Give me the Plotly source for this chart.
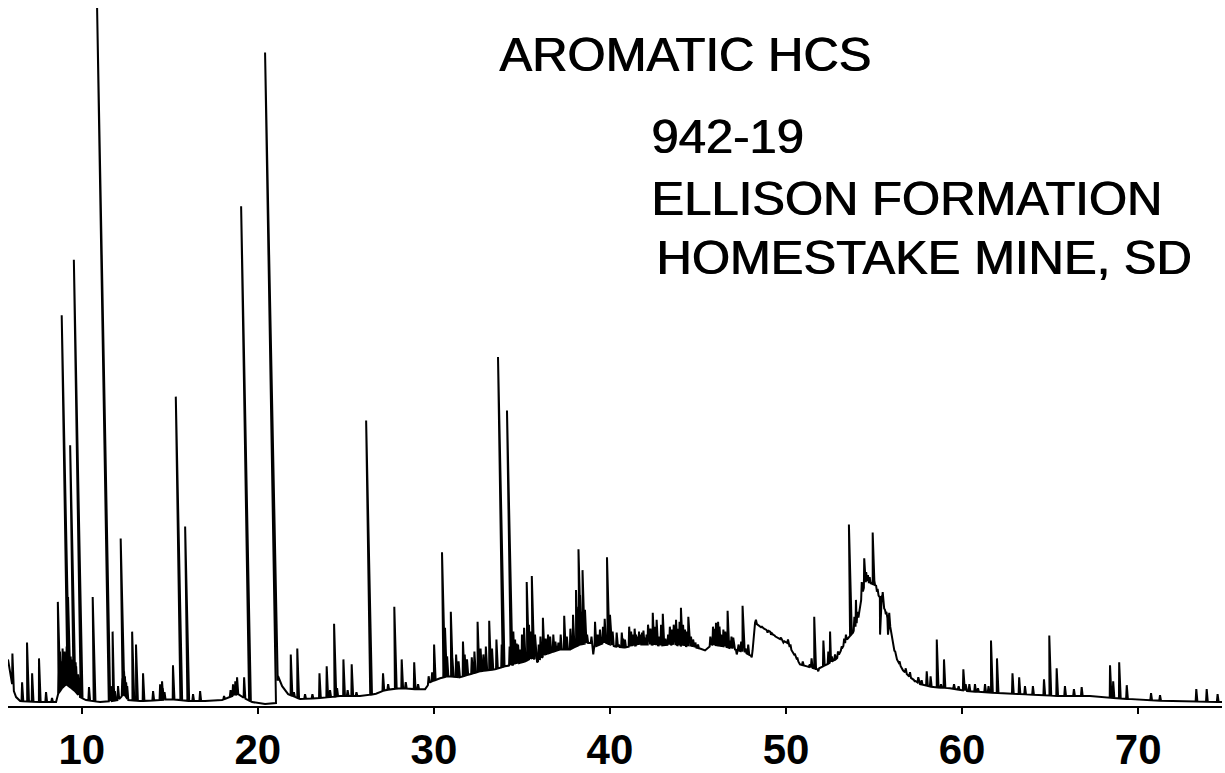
import numpy as np
import plotly.graph_objects as go

# Retention time (min) and detector level of the underlying baseline / UCM hump
base_time = [5.81, 5.93, 6.10, 6.27, 6.50, 7.63, 8.54, 8.65, 8.88, 9.11, 9.34, 9.62, 9.90,
             10.24, 11.04, 11.72, 12.06, 12.40, 12.63, 13.31, 14.45, 15.01, 16.15, 17.00,
             17.97, 18.54, 18.88, 19.22, 19.67, 20.41, 21.03, 21.15, 21.38, 21.72, 22.40,
             23.53, 24.67, 25.80, 26.66, 27.22, 28.08, 28.93, 29.50, 29.78, 30.35, 30.80,
             31.48, 32.05, 32.62, 33.47, 34.04, 34.61, 35.18, 35.63, 35.86, 36.31, 37.16,
             37.73, 38.30, 38.87, 39.15, 39.72, 40.29, 40.85, 41.71, 42.27, 42.84, 43.41,
             44.55, 45.11, 45.40, 45.79, 46.53, 47.10, 47.67, 48.07, 48.24, 48.52, 49.09,
             49.49, 50.05, 50.39, 50.79, 51.19, 51.76, 52.33, 52.89, 53.18, 53.46, 53.80,
             54.09, 54.31, 54.54, 54.77, 55.05, 55.22, 55.45, 55.62, 55.90, 56.13, 56.30,
             56.64, 57.04, 57.61, 58.35, 59.31, 60.28, 61.19, 62.15, 63.29, 64.42, 65.56,
             67.26, 67.83, 69.53, 70.39, 71.80, 74.76]
base_level = [47, 32, 17, 9, 5, 4, 4, 12, 18, 22, 19, 15, 9,
              6, 4, 5, 6, 12, 6, 5, 6, 7, 5, 5,
              6, 10, 12, 8, 4, 2, 3, 30, 20, 12, 7,
              8, 10, 10, 12, 16, 18, 17, 17, 24, 28, 30,
              29, 32, 35, 37, 40, 42, 45, 49, 44, 52, 57,
              57, 62, 64, 60, 64, 60, 59, 62, 62, 61, 62,
              60, 58, 56, 62, 60, 57, 54, 50, 84, 80, 75,
              69, 64, 54, 42, 40, 37, 42, 48, 58, 67, 74,
              87, 112, 127, 124, 122, 112, 107, 95, 82, 57, 47,
              36, 29, 22, 19, 18, 15, 14, 13, 12, 11, 10,
              10, 9, 7, 6, 5, 4]

# Resolved peaks: apex retention time (min) and apex level
peak_time = [6.06, 6.61, 6.89, 7.18, 7.57, 7.97, 8.31, 8.64, 8.71, 8.80, 8.86, 8.94, 8.99,
             9.05, 9.11, 9.17, 9.22, 9.28, 9.34, 9.39, 9.45, 9.55, 9.59, 9.65, 9.68, 9.73,
             9.79, 10.41, 10.62, 10.87, 11.75, 12.06, 12.21, 12.40, 12.52, 12.86, 13.08,
             13.48, 14.05, 14.45, 14.56, 15.18, 15.34, 15.87, 16.32, 16.72, 18.08, 18.59,
             18.82, 19.05, 19.22, 20.41, 21.87, 22.24, 22.68, 23.50, 23.91, 24.33, 24.86,
             25.33, 26.15, 26.66, 27.11, 27.75, 28.17, 28.88, 30.01, 30.46, 30.63, 30.96,
             31.26, 31.65, 31.88, 32.15, 32.48, 32.81, 33.14, 33.55, 33.64, 34.15, 34.51,
             34.61, 34.78, 34.89, 35.00, 35.12, 35.27, 35.40, 35.56, 35.63, 35.74, 36.19,
             36.48, 36.78, 37.07, 37.40, 37.90, 38.07, 38.21, 38.30, 38.44, 38.58, 39.05,
             39.15, 39.43, 39.83, 40.00, 40.38, 40.67, 40.85, 41.09, 41.31, 41.48, 41.65,
             41.82, 41.99, 42.16, 42.43, 42.65, 43.00, 43.30, 43.52, 43.75, 44.03, 44.26,
             44.45, 44.72, 45.85, 46.02, 46.14, 46.31, 46.44, 46.68, 47.00, 47.20, 47.53,
             48.05, 48.29, 48.63, 48.86, 49.26, 49.71, 50.11, 50.51, 51.60, 51.83, 52.12,
             52.50, 52.78, 53.16, 53.57, 53.97, 54.20, 54.44, 54.65, 54.92, 55.11, 55.34,
             55.49, 55.62, 55.79, 55.86, 57.04, 57.51, 57.99, 58.21, 58.56, 58.97, 59.54,
             60.07, 60.41, 60.73, 61.30, 61.64, 61.98, 62.86, 63.24, 63.57, 64.02, 64.65,
             64.95, 65.37, 65.84, 66.35, 66.79, 68.40, 68.58, 68.92, 69.35, 70.73, 71.24,
             73.30, 73.89, 74.51]
peak_height = [53, 24, 64, 33, 48, 14, 8, 105, 47, 40, 394, 50, 42,
               44, 52, 48, 110, 42, 263, 44, 47, 450, 37, 44, 40, 27,
               32, 19, 110, 704, 75, 20, 169, 35, 24, 75, 62,
               33, 15, 22, 25, 41, 312, 181, 12, 15, 10, 22,
               29, 504, 29, 659, 52, 58, 12, 33, 40, 83, 47,
               42, 288, 12, 33, 100, 47, 44, 62, 155, 79, 95,
               52, 65, 47, 49, 85, 52, 86, 67, 352, 298, 75,
               67, 62, 57, 72, 79, 125, 82, 131, 64, 72, 89,
               72, 72, 64, 91, 92, 117, 158, 112, 137, 97, 52,
               85, 77, 150, 92, 74, 74, 67, 80, 72, 72, 75,
               74, 69, 82, 94, 87, 93, 72, 77, 87, 99, 77,
               90, 67, 80, 84, 85, 72, 77, 96, 69, 52, 101,
               49, 87, 80, 77, 72, 69, 67, 52, 90, 35, 66,
               75, 52, 60, 183, 107, 102, 149, 132, 175, 122, 72,
               115, 97, 72, 94, 34, 29, 35, 30, 67, 47, 22,
               37, 22, 22, 22, 66, 48, 33, 29, 20, 20, 27,
               71, 38, 20, 17, 19, 41, 25, 44, 21, 13, 11,
               17, 17, 12]

# Unresolved minor components riding on the hump
minor_time = [8.68, 8.76, 8.83, 8.91, 8.97, 9.02, 9.08, 9.14, 9.20, 9.26, 9.31, 9.37, 9.42,
              9.48, 9.52, 9.62, 9.70, 11.65, 11.80, 11.88, 12.30, 12.45, 12.58, 14.60, 14.70,
              18.45, 18.66, 18.72, 22.05, 23.10, 24.10, 24.50, 25.10, 25.60, 27.40, 28.40,
              29.10, 29.70, 29.90, 30.55, 30.75, 31.05, 31.40, 31.75, 32.30, 32.65, 32.95,
              33.30, 33.85, 34.30, 34.70, 35.05, 35.35, 35.48, 35.95, 36.05, 36.35, 36.60,
              36.90, 37.20, 37.55, 37.75, 38.12, 38.36, 38.50, 38.70, 38.95, 39.30, 39.60,
              39.70, 39.92, 40.15, 40.50, 40.75, 41.20, 41.40, 41.57, 41.73, 41.90, 42.08,
              42.30, 42.55, 42.80, 42.90, 43.15, 43.40, 43.62, 43.85, 43.95, 44.15, 44.35,
              44.60, 44.85, 45.00, 45.70, 45.95, 46.08, 46.22, 46.38, 46.55, 46.80, 46.90,
              47.30, 47.45, 47.70, 47.85, 48.40, 48.75, 48.95, 49.15, 49.40, 49.60, 49.85,
              50.25, 50.65, 50.95, 51.35, 51.45, 52.40, 52.60, 52.95, 53.30, 53.40, 53.70,
              53.88, 54.05, 54.30, 54.55, 54.75, 55.00, 55.20, 55.40, 55.70, 56.00, 56.20,
              56.45, 56.80, 57.30, 57.70, 58.80, 59.80, 60.20, 60.90, 61.50]
minor_height = [40, 55, 45, 58, 38, 55, 40, 60, 38, 52, 36, 50, 35,
                40, 30, 30, 25, 20, 25, 15, 28, 30, 20, 18, 14,
                16, 20, 25, 14, 12, 16, 18, 16, 14, 22, 24,
                22, 30, 34, 60, 50, 48, 45, 52, 55, 58, 60,
                58, 62, 60, 63, 66, 70, 75, 62, 70, 68, 70,
                65, 72, 70, 78, 100, 95, 85, 72, 70, 72, 80,
                88, 85, 75, 62, 68, 75, 78, 70, 72, 76, 72,
                78, 80, 70, 82, 68, 80, 82, 78, 85, 82, 75,
                70, 64, 62, 70, 78, 75, 80, 70, 75, 66, 70,
                62, 65, 58, 62, 82, 78, 74, 72, 70, 68, 64,
                62, 48, 45, 42, 48, 55, 50, 55, 68, 72, 80,
                90, 95, 125, 135, 130, 128, 118, 110, 95, 70, 55,
                45, 38, 25, 26, 22, 20, 22, 18, 20]

x_ticks = [10, 20, 30, 40, 50, 60, 70]

title_lines = [
    ("AROMATIC HCS", 0.4028, 0.9235),
    ("942-19", 0.5280, 0.8069),
    ("ELLISON FORMATION", 0.5280, 0.7198),
    ("HOMESTAKE MINE, SD", 0.5321, 0.6355),
]

# Strip-chart pen: apex drawn slightly ahead of the foot (arc of the recorder pen)
PEN_LEAN = 0.00102   # minutes of offset per unit of peak height
HALF_WIDTH = 0.05    # half width of a peak at its foot, minutes

bt = np.array(base_time, dtype=float)
bl = np.array(base_level, dtype=float)

all_peaks = list(zip(peak_time, peak_height)) + list(zip(minor_time, minor_height))

events = []
windows = []
for t, h in all_peaks:
    b0 = float(np.interp(t, bt, bl))
    foot = t + PEN_LEAN * abs(h - b0)
    left, right = foot - HALF_WIDTH, foot + HALF_WIDTH
    windows.append((left, right))
    events.append((left, [(left, float(np.interp(left, bt, bl))),
                          (t, h),
                          (right, float(np.interp(right, bt, bl)))]))
for t, h in zip(bt, bl):
    if not any(l <= t <= r for l, r in windows):
        events.append((t, [(t, h)]))
events.sort(key=lambda e: e[0])

xs, ys = [], []
for _, pts in events:
    for x, y in pts:
        xs.append(x)
        ys.append(y)

fig = go.Figure()
fig.add_trace(go.Scatter(
    x=xs, y=ys, mode="lines",
    line=dict(color="black", width=2.0),
    hoverinfo="skip", showlegend=False,
))

for text, px, py in title_lines:
    fig.add_annotation(
        text=text, xref="paper", yref="paper", x=px, y=py,
        xanchor="left", yanchor="middle", showarrow=False,
        font=dict(family="Liberation Sans, Arial, sans-serif", size=49, color="black",
                  shadow="1px 0 0 black"),
    )

fig.update_layout(
    width=1225, height=773,
    margin=dict(l=8, r=3, t=0, b=61),
    paper_bgcolor="white", plot_bgcolor="white",
    showlegend=False,
    xaxis=dict(
        range=[5.81, 74.76], tickmode="array", tickvals=x_ticks,
        ticktext=[str(v) for v in x_ticks],
        ticks="outside", ticklen=6, tickwidth=1.5, tickcolor="black",
        showline=True, linecolor="black", linewidth=2,
        showgrid=False, zeroline=False,
        tickfont=dict(family="Liberation Sans, Arial, sans-serif", size=42,
                      color="black", weight="bold"),
    ),
    yaxis=dict(range=[0, 712], visible=False, showgrid=False, zeroline=False),
)

fig.write_html("out.html")
